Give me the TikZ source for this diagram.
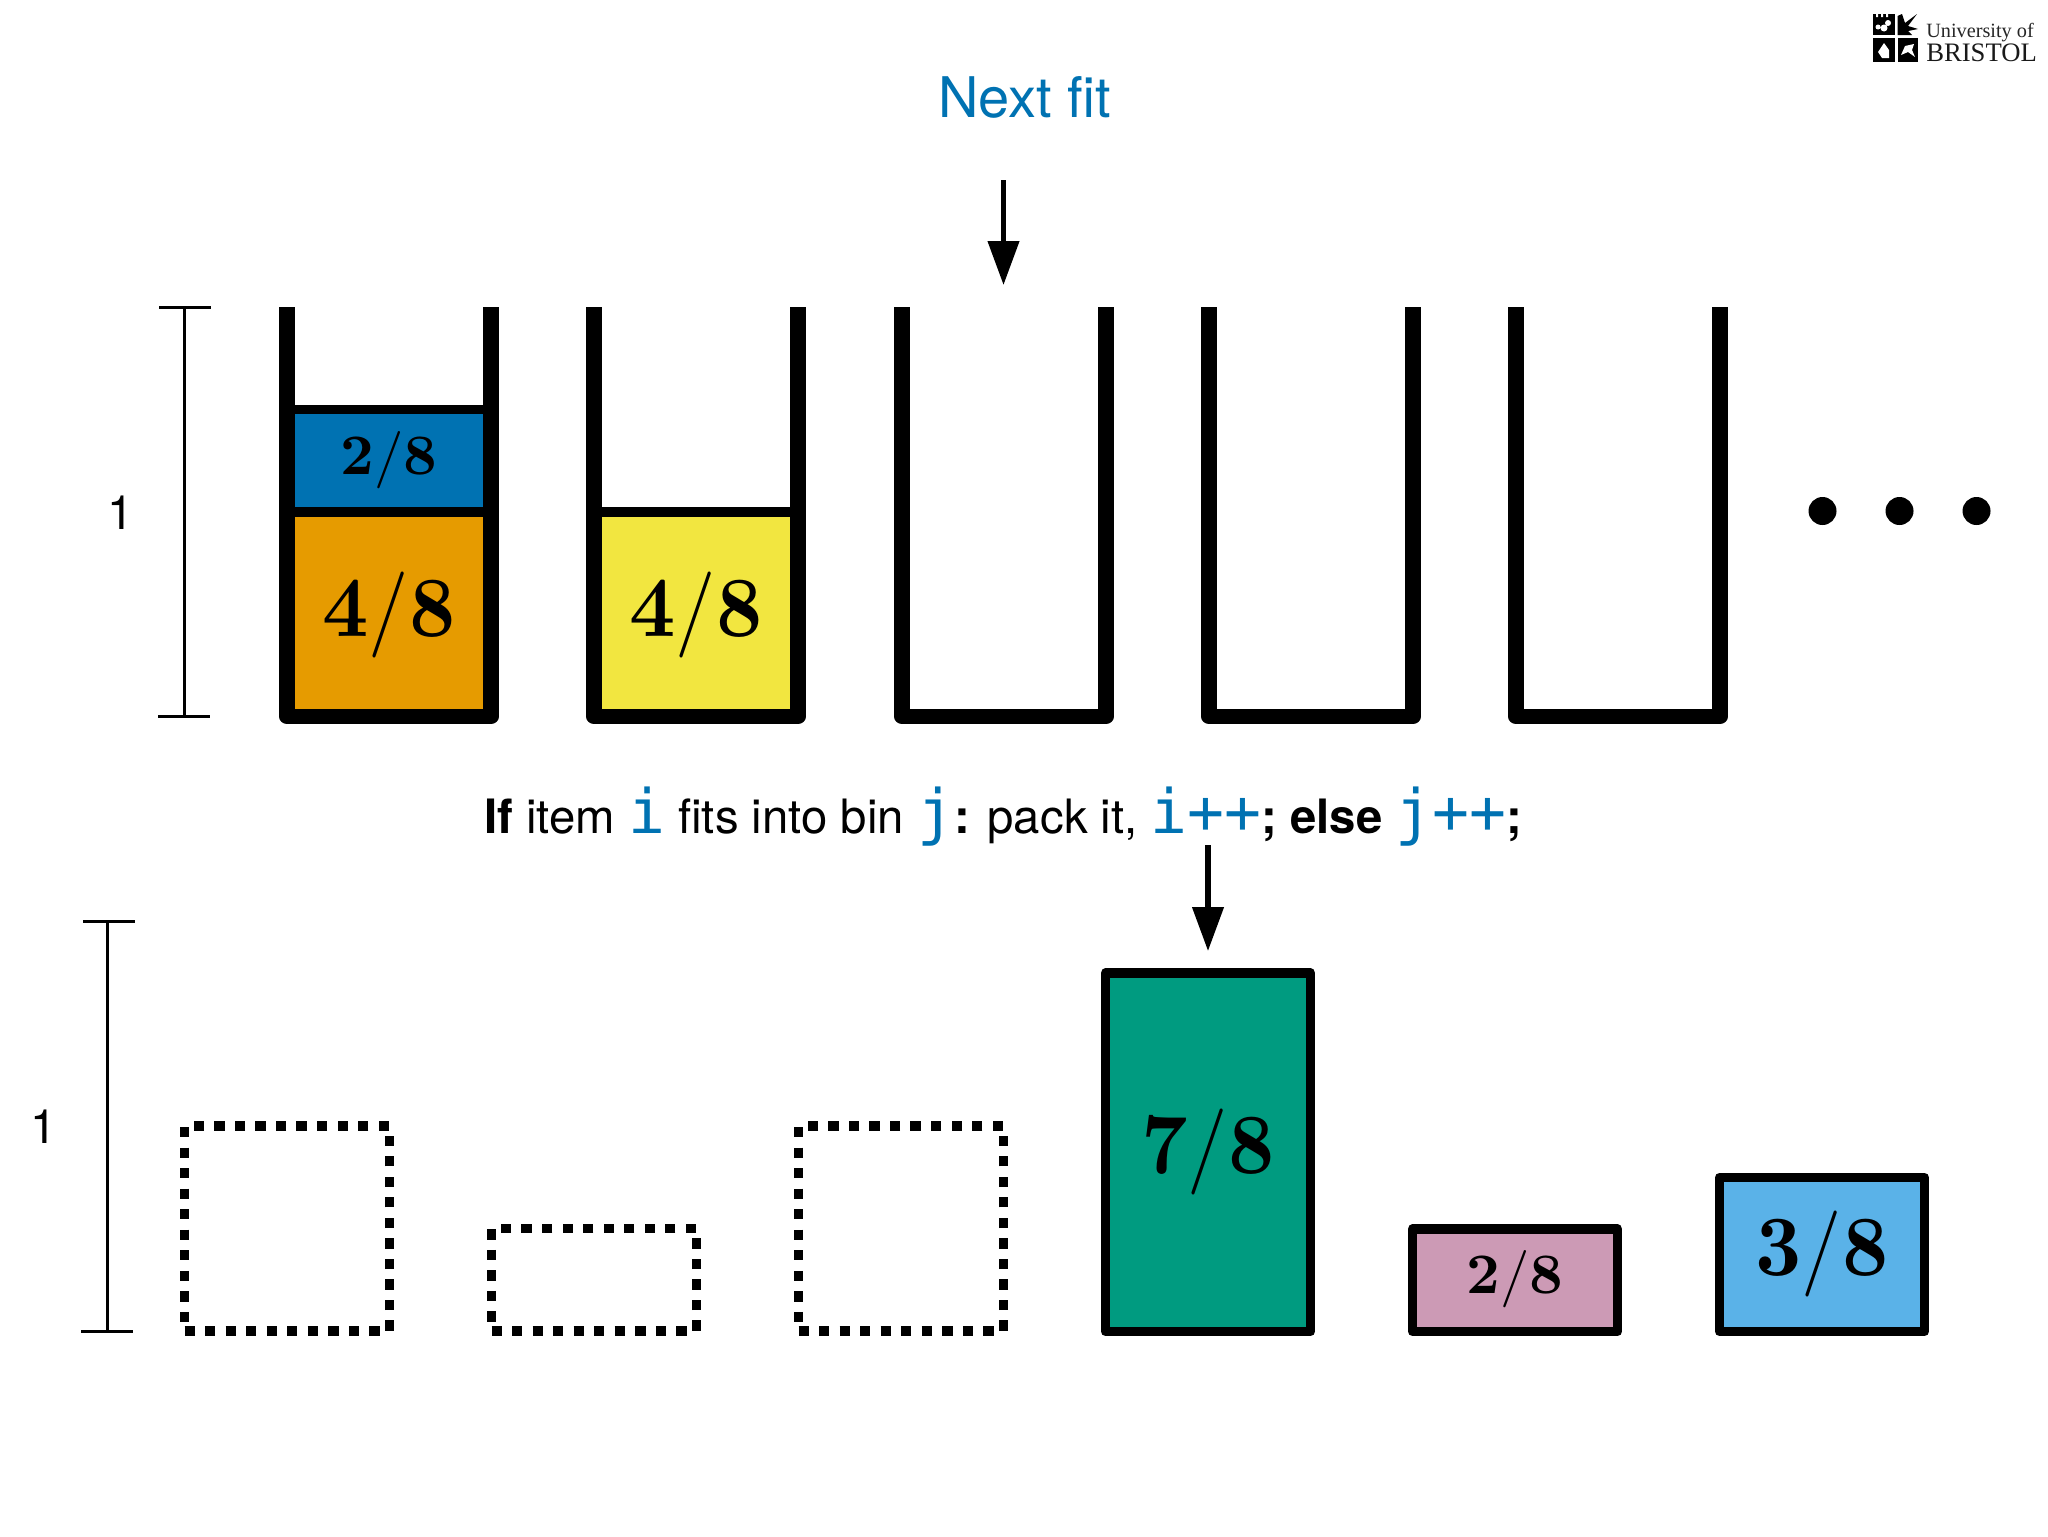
\documentclass[tikz,border=0pt]{standalone}
\usepackage[no-math]{fontspec}
\setmainfont{TeX Gyre Heros}
\setmonofont{DejaVu Sans Mono}
\newfontfamily\crestfont{Liberation Serif}
\usetikzlibrary{arrows.meta}
\definecolor{slideblue}{RGB}{0,114,178}
\definecolor{itemorange}{RGB}{230,155,0}
\definecolor{itemyellow}{RGB}{242,230,64}
\definecolor{itemgreen}{RGB}{0,155,128}
\definecolor{itempink}{RGB}{204,154,181}
\definecolor{itemsky}{RGB}{90,178,232}
\newcommand{\codeword}[1]{{\color{slideblue}\fontsize{46}{52}\selectfont\ttfamily #1}}
\newcommand{\fracword}[2]{$\mathbf{#1}/\mathbf{#2}$}
\tikzset{
	binwall/.style={line width=11.6pt,line join=round,line cap=butt},
	itembox/.style={line width=6.9pt,draw=black,line join=round},
	ghostbox/.style={line width=7pt,draw=black,dash pattern={on 7.7pt off 7.7pt}},
	sizebar/.style={line width=2.25pt},
	pointer/.style={line width=4pt,-{Triangle[length=33pt,width=23pt]}},
	fracbig/.style={xscale=6.04,yscale=6.45,inner sep=0pt},
	fracsmall/.style={xscale=4.4,yscale=4.3,inner sep=0pt},
	slidetext/.style={anchor=base west,inner sep=0pt,font=\fontsize{35.5}{40}\selectfont}}

\begin{document}
\begin{tikzpicture}[x=0.75pt,y=0.75pt,yscale=-1,xscale=1]
	\useasboundingbox (0,0) rectangle (2048,1536);

	% Items in bins
	\draw [itembox,fill=itemorange] (287,512) rectangle (491,716.5) ;
	\draw [itembox,fill=slideblue] (287,409.5) rectangle (491,512) ;
	\draw [itembox,fill=itemyellow] (594,512) rectangle (798,716.5) ;

	% Bins
	\draw [binwall] (287,307) -- (287,716.5) -- (491,716.5) -- (491,307) ;
	\draw [binwall] (594,307) -- (594,716.5) -- (798,716.5) -- (798,307) ;
	\draw [binwall] (902,307) -- (902,716.5) -- (1106,716.5) -- (1106,307) ;
	\draw [binwall] (1209,307) -- (1209,716.5) -- (1413,716.5) -- (1413,307) ;
	\draw [binwall] (1516,307) -- (1516,716.5) -- (1720,716.5) -- (1720,307) ;

	% Size bars
	\coordinate (topbarA) at (184,307);
	\coordinate (topbarB) at (184,716.5);
	\coordinate (lowbarA) at (107,921);
	\coordinate (lowbarB) at (107,1331.5);
	\draw [sizebar] (topbarA) -- (topbarB) ;
	\draw [sizebar] (159,307) -- (211,307) ;
	\draw [sizebar] (158,716.5) -- (210,716.5) ;
	\draw [sizebar] (lowbarA) -- (lowbarB) ;
	\draw [sizebar] (83,921) -- (135,921) ;
	\draw [sizebar] (81,1331.5) -- (133,1331.5) ;

	% Pointers
	\coordinate (nextA) at (1003.5,180);
	\coordinate (nextB) at (1003.5,285);
	\coordinate (fitA) at (1208,845);
	\coordinate (fitB) at (1208,951);
	\draw [pointer] (nextA) -- (nextB) ;
	\draw [pointer] (fitA) -- (fitB) ;

	% Dots
	\fill (1822.5,511) circle (14) ;
	\fill (1899.5,511) circle (14) ;
	\fill (1976.5,511) circle (14) ;

	% Items waiting
	\draw [ghostbox] (184.5,1331) -- (389.5,1331) -- (389.5,1126) -- (184.5,1126) -- cycle ;
	\draw [ghostbox] (491.5,1331) -- (696.5,1331) -- (696.5,1228.5) -- (491.5,1228.5) -- cycle ;
	\draw [ghostbox] (798.5,1331) -- (1003.5,1331) -- (1003.5,1126) -- (798.5,1126) -- cycle ;
	\draw [itembox,fill=itemgreen] (1105.5,973) rectangle (1310.5,1331.5) ;
	\draw [itembox,fill=itempink] (1412.5,1229) rectangle (1617.5,1331.5) ;
	\draw [itembox,fill=itemsky] (1719.5,1177.5) rectangle (1924.5,1331.5) ;

	% Text Node
	\node (title) [anchor=base west,inner sep=0pt,text=slideblue,font=\fontsize{42}{48}\selectfont] at (938,117.5) {Next fit};
	% Text Node
	\node (rule) [slidetext] at (484,833.5) {\textbf{If} item \codeword{i} fits into bin \codeword{j}\textbf{:} pack it, \codeword{i++}\textbf{;} \textbf{else} \codeword{j++}\textbf{;}};
	% Text Node
	\node (topone) [slidetext] at (107,529) {1};
	% Text Node
	\node (lowone) [slidetext] at (30,1143) {1};

	% Text Node
	\node (fracA) [fracsmall] at (389,460) {\fracword{2}{8}};
	\node (fracB) [fracbig] at (389,615) {\fracword{4}{8}};
	\node (fracC) [fracbig] at (696,615) {\fracword{4}{8}};
	\node (fracD) [fracbig] at (1208,1152) {\fracword{7}{8}};
	\node (fracE) [fracsmall] at (1515,1279) {\fracword{2}{8}};
	\node (fracF) [fracbig] at (1822,1254) {\fracword{3}{8}};

	% Crest
	\fill (1873,14) rectangle (1894.5,35) ;
	\fill (1873,37.5) rectangle (1894.5,62) ;
	\fill (1897.5,37.5) rectangle (1918,62) ;
	\fill [white] (1876,14) rectangle (1878,17) (1881,14) rectangle (1883,17) (1886,14) rectangle (1888,17) ;
	\fill [white] (1878,27) circle (2.5) (1884,28) circle (3.5) (1888,23) circle (3) ;
	\fill [white] (1878,52) -- (1884,43) -- (1889,50) -- (1889,58) -- (1882,58) -- cycle ;
	\fill [white] (1901,55) -- (1905,46) -- (1914,44) -- (1912,50) -- (1915,57) -- (1908,52) -- cycle ;
	\fill (1897.5,35) -- (1897.5,16) -- (1902,14) -- (1905,23) -- (1917,14) -- (1908,26) -- (1918,29) -- (1908,31) -- (1912,35) -- cycle ;
	% Text Node
	\node (uni) [anchor=base west,inner sep=0pt,text=black!85,font=\crestfont\fontsize{15.2}{16}\selectfont] at (1926,37) {University of};
	% Text Node
	\node (bristol) [anchor=base west,inner sep=0pt,text=black!90,font=\crestfont\fontsize{20}{20}\selectfont] at (1926,61) {BRISTOL};

\end{tikzpicture}
\end{document}
